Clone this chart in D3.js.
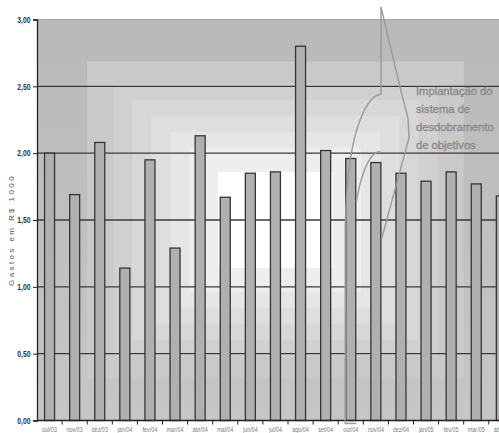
<!DOCTYPE html>
<html>
<head>
<meta charset="utf-8">
<script src="https://cdn.jsdelivr.net/npm/d3@7"></script>
<style>
  html, body { margin: 0; padding: 0; background: #ffffff; }
  svg { display: block; }
  text { font-family: "Liberation Sans", Arial, sans-serif; }
</style>
</head>
<body>
<svg id="chart" width="499" height="433"></svg>
<script>
// Monthly spending (R$ 1000), Oct/2003 – Apr/2005
const months = ["out/03", "nov/03", "dez/03", "jan/04", "fev/04", "mar/04", "abr/04",
                "mai/04", "jun/04", "jul/04", "ago/04", "set/04", "out/04", "nov/04",
                "dez/04", "jan/05", "fev/05", "mar/05", "abr/05"];
const gastos = [2.00, 1.69, 2.08, 1.14, 1.95, 1.29, 2.13, 1.67, 1.85, 1.86,
                2.80, 2.02, 1.96, 1.93, 1.85, 1.79, 1.86, 1.77, 1.68];
const yTicks = [0, 0.5, 1.0, 1.5, 2.0, 2.5, 3.0];
const yTitle = "Gastos em R$ 1000";
const noteLines = ["Implantação do", "sistema de", "desdobramento", "de objetivos"];

// stepped "from centre" backdrop: relative size of each ring and its grey
const ringScale = [1.0, 0.79, 0.68, 0.60, 0.52, 0.44, 0.36, 0.24];
const ringGrey  = ["#bfbfbf", "#c9c9c9", "#d0d0d0", "#d7d7d7", "#dedede", "#e6e6e6", "#eeeeee", "#ffffff"];

const svg = d3.select("#chart");
const plotL = 37, plotT = 19.5, plotB = 420.5, step = 25.1;
const plotR = plotL + step * months.length;
const squeeze = 0.8; // condensed look for the small axis texts

const x = d3.scaleBand().domain(months).range([plotL, plotR]).padding(0);
const y = d3.scaleLinear().domain([0, 3]).range([plotB, plotT]);
const fmt = d => d3.format(".2f")(d).replace(".", ",");

// outer ring shades slightly from top to bottom
const grad = svg.append("defs").append("linearGradient")
  .attr("id", "outerRing").attr("x1", 0).attr("y1", 0).attr("x2", 0).attr("y2", 1);
grad.append("stop").attr("offset", 0).attr("stop-color", "#b9b9b9");
grad.append("stop").attr("offset", 1).attr("stop-color", "#c6c6c6");

// backdrop rings
const cx = (plotL + plotR) / 2, cy = (plotT + plotB) / 2;
const hw = (plotR - plotL) / 2, hh = (plotB - plotT) / 2;
svg.append("g").selectAll("rect").data(ringScale).join("rect")
  .attr("x", s => cx - hw * s)
  .attr("y", s => cy - hh * s)
  .attr("width", s => 2 * hw * s)
  .attr("height", s => 2 * hh * s)
  .attr("fill", (s, i) => i === 0 ? "url(#outerRing)" : ringGrey[i]);

// horizontal gridlines
svg.append("g").selectAll("line").data(yTicks.filter(v => v > 0)).join("line")
  .attr("x1", plotL).attr("x2", plotR)
  .attr("y1", d => y(d)).attr("y2", d => y(d))
  .attr("stroke", d => d === 3 ? "#a6a6a6" : "#3a3a3a")
  .attr("stroke-width", d => d === 3 ? 1 : 1.3);

// bars
const bw = 10;
svg.append("g").selectAll("rect").data(gastos).join("rect")
  .attr("x", (d, i) => x(months[i]) + (x.bandwidth() - bw) / 2)
  .attr("y", d => y(d))
  .attr("width", bw)
  .attr("height", d => y(0) - y(d))
  .attr("fill", "#b0b0b0")
  .attr("stroke", "#353535")
  .attr("stroke-width", 1.3);

// y axis
const yAxis = svg.append("g").attr("transform", `translate(${plotL},0)`)
  .call(d3.axisLeft(y).tickValues(yTicks).tickFormat(fmt).tickSize(4).tickPadding(3));
yAxis.select(".domain").attr("stroke", "#222").attr("stroke-width", 1.3);
yAxis.selectAll(".tick line").attr("stroke", "#222");
yAxis.selectAll(".tick text")
  .attr("x", -6.5 / squeeze)
  .attr("transform", `scale(${squeeze},1)`)
  .attr("fill", "#333")
  .attr("font-size", 8.5)
  .attr("font-weight", "bold");

// x axis: baseline, ticks at band edges, month labels under each bar
const xg = svg.append("g");
xg.append("line")
  .attr("x1", plotL).attr("x2", plotR)
  .attr("y1", plotB).attr("y2", plotB)
  .attr("stroke", "#222").attr("stroke-width", 1.3);
xg.selectAll("line.tk").data(months).join("line")
  .attr("class", "tk")
  .attr("x1", d => x(d) + x.step())
  .attr("x2", d => x(d) + x.step())
  .attr("y1", plotB).attr("y2", plotB + 4)
  .attr("stroke", "#222");
xg.selectAll("text").data(months).join("text")
  .attr("transform", d => `translate(${x(d) + x.bandwidth() / 2},432) scale(${squeeze},1)`)
  .attr("text-anchor", "middle")
  .attr("font-size", 6.8)
  .attr("fill", "#7a7a7a")
  .text(d => d);

// y title
svg.append("text")
  .attr("transform", `translate(14,230) rotate(-90)`)
  .attr("text-anchor", "middle")
  .attr("font-size", 8)
  .attr("letter-spacing", 2.4)
  .attr("fill", "#555")
  .text(yTitle);

// callout pointing at the months when the new system started
const iOut = months.indexOf("out/04"), iNov = months.indexOf("nov/04");
const bOutL = x(months[iOut]) + (x.bandwidth() - bw) / 2 - 0.5;
const bOutR = bOutL + bw + 1;
const bNovR = x(months[iNov]) + (x.bandwidth() + bw) / 2;
const callout = svg.append("g").attr("fill", "none").attr("stroke", "#9a9a9a").attr("stroke-width", 1.4);
callout.append("path").attr("d",
  `M${bOutR},${plotB + 3} L${bOutL},${plotB + 3} L${bOutL},225 ` +
  `C${bOutL + 1},188 ${bOutL + 5},150 ${bOutL + 12},128 ` +
  `C${bOutL + 18},110 ${bOutL + 25},97 ${bOutL + 33},95 L381,94 L381,7 ` +
  `L400,87 L408,118 L409,138 L${bNovR + 1},238`);
callout.append("path").attr("d",
  `M${bOutR},202 C${bOutR + 3},185 ${bOutR + 9},163 ${bOutR + 17},155 L${bOutR + 21},152 L${bNovR},152`);

// callout text
svg.append("g").selectAll("text").data(noteLines).join("text")
  .attr("x", 416)
  .attr("y", (d, i) => 95 + i * 18)
  .attr("font-size", 11.2)
  .attr("fill", "#8a8a8a")
  .attr("stroke", "#8a8a8a")
  .attr("stroke-width", 0.35)
  .text(d => d);
</script>
</body>
</html>
